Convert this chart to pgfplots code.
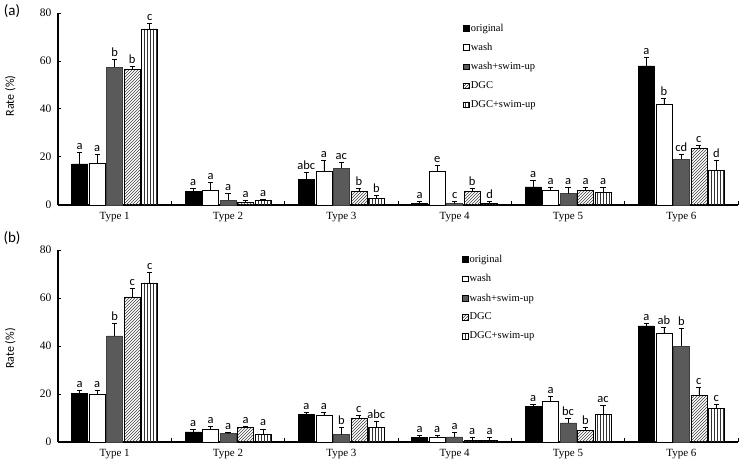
\documentclass[border=0pt]{standalone}
\usepackage{fontspec}
\setmainfont{Liberation Serif}
\newfontfamily\tnr{Liberation Serif}
\newfontfamily\calib{Carlito}
\usepackage{pgfplots}
\usepackage{pgfplotstable}
\pgfplotsset{compat=1.18}
\usetikzlibrary{patterns}

\pgfplotstableread{
x o oe ol w we wl s se sl d de dl v ve vl
0 17.1 4.7 a 17.4 3.7 a 57.4 3.4 b 56.6 1.3 b 73.4 2.5 c
1 5.8 1.2 a 6.1 3.2 a 1.9 3.0 a 1.2 0.6 a 1.9 0.3 a
2 10.7 3.1 abc 13.9 4.7 a 15.3 2.4 ac 5.6 1.2 b 2.9 1.0 b
3 0.8 0.7 a 14.2 2.5 e 0.6 0.8 c 5.7 1.4 b 0.6 0.9 d
4 7.5 2.8 a 6.1 1.3 a 4.7 2.7 a 6.1 1.3 a 5.3 2.1 a
5 58.0 3.5 a 42.1 2.3 b 19.1 2.0 cd 23.8 1.0 c 14.5 4.1 d
}\dataA

\pgfplotstableread{
x o oe ol w we wl s se sl d de dl v ve vl
0 20.2 1.3 a 20.1 1.3 a 44.2 5.4 b 60.5 3.6 c 66.3 4.6 c
1 4.2 1.1 a 5.5 0.9 a 3.5 0.7 a 6.2 0.3 a 3.1 2.4 a
2 11.4 1.1 a 11.0 1.2 a 3.1 2.9 b 10.0 1.2 c 6.0 2.6 abc
3 1.8 1.0 a 2.1 0.7 a 2.1 1.8 a 0.7 1.1 a 0.7 1.1 a
4 14.7 1.0 a 16.8 2.1 a 8.0 1.8 bc 4.9 1.3 b 11.5 3.8 ac
5 48.4 1.0 a 45.2 2.5 ab 39.9 7.3 b 19.4 3.3 c 14.0 1.7 c
}\dataB

\definecolor{barGray}{HTML}{5A5A5A}

\pgfplotsset{
  panel/.style={
    ybar, bar width=16pt,
    width=680pt, height=192pt, scale only axis,
    xmin=-0.5, xmax=5.5, ymin=0, ymax=80,
    axis x line*=bottom, axis y line*=left,
    axis line style={line width=1.2pt},
    ytick={0,20,40,60,80},
    xtick={0,1,2,3,4,5},
    xticklabels={Type 1,Type 2,Type 3,Type 4,Type 5,Type 6},
    minor xtick={0.5,1.5,2.5,3.5,4.5,5.5},
    tick align=inside, major tick length=3pt, minor tick length=4pt,
    major x tick style={draw=none},
    minor x tick style={line width=1pt, black},
    major y tick style={line width=1pt, black},
    /pgf/number format/assume math mode=true,
    yticklabel style={font=\tnr\fontsize{11.5}{13}\selectfont, xshift=-3pt},
    xticklabel style={font=\tnr\fontsize{11}{13}\selectfont, yshift=-4pt},
    ylabel={Rate (\%)},
    legend cell align=left,
    legend style={draw=none, fill=none, inner sep=0pt, row sep=7.5pt,
      font=\tnr\fontsize{10.5}{12}\selectfont, nodes={inner sep=1.5pt}},
    legend image code/.code={\draw[##1, draw=black, line width=0.4pt] (0pt,-2.6pt) rectangle (5.5pt,2.9pt);},
    clip=false,
  },
  bars/.style={
    line width=0.5pt,
    error bars/y dir=plus, error bars/y explicit,
    error bars/error bar style={black, line width=0.6pt},
    error bars/error mark options={rotate=90, mark size=2.6pt, black, line width=0.6pt},
    nodes near coords, point meta=explicit symbolic,
    every node near coord/.append style={font=\calib\fontsize{12.5}{14}\selectfont, black, anchor=south, inner sep=2.5pt, shift={(axis direction cs:0,\err)}},
  },
  sO/.style={bars, bar shift=-35pt, fill=black, draw=black},
  sW/.style={bars, bar shift=-17.5pt, fill=white, draw=black},
  sS/.style={bars, bar shift=0pt, fill=barGray, draw=barGray!70!black},
  sD/.style={bars, bar shift=17.5pt, fill=white, draw=black, pattern=north east lines, pattern color=black!75},
  sV/.style={bars, bar shift=35pt, fill=white, draw=black, pattern=vertical lines, pattern color=black!80},
}

\begin{document}
\begin{tikzpicture}
\useasboundingbox (0pt,0pt) rectangle (744pt,463pt);
\node[font=\calib\fontsize{15}{18}\selectfont] at (12pt,452pt) {(a)};
\node[font=\calib\fontsize{15}{18}\selectfont] at (12pt,224.5pt) {(b)};

\begin{axis}[panel, at={(58pt,258pt)}, anchor=south west,
  ylabel style={font=\calib\fontsize{12}{14}\selectfont, at={(axis description cs:-0.07,0.568)}, anchor=center},
  legend style={at={(axis description cs:0.596,0.952)}, anchor=north west}]
\addplot[sO, visualization depends on={\thisrow{oe} \as \err}] table[x=x, y=o, y error=oe, meta=ol]{\dataA};
\addplot[sW, visualization depends on={\thisrow{we} \as \err}] table[x=x, y=w, y error=we, meta=wl]{\dataA};
\addplot[sS, visualization depends on={\thisrow{se} \as \err}] table[x=x, y=s, y error=se, meta=sl]{\dataA};
\addplot[sD, visualization depends on={\thisrow{de} \as \err}] table[x=x, y=d, y error=de, meta=dl]{\dataA};
\addplot[sV, visualization depends on={\thisrow{ve} \as \err}] table[x=x, y=v, y error=ve, meta=vl]{\dataA};
\legend{original,wash,wash+swim-up,DGC,DGC+swim-up}
\end{axis}

\begin{axis}[panel, at={(58pt,21pt)}, anchor=south west,
  ylabel style={font=\calib\fontsize{12}{14}\selectfont, at={(axis description cs:-0.07,0.487)}, anchor=center},
  legend style={at={(axis description cs:0.594,0.982)}, anchor=north west}]
\addplot[sO, visualization depends on={\thisrow{oe} \as \err}] table[x=x, y=o, y error=oe, meta=ol]{\dataB};
\addplot[sW, visualization depends on={\thisrow{we} \as \err}] table[x=x, y=w, y error=we, meta=wl]{\dataB};
\addplot[sS, visualization depends on={\thisrow{se} \as \err}] table[x=x, y=s, y error=se, meta=sl]{\dataB};
\addplot[sD, visualization depends on={\thisrow{de} \as \err}] table[x=x, y=d, y error=de, meta=dl]{\dataB};
\addplot[sV, visualization depends on={\thisrow{ve} \as \err}] table[x=x, y=v, y error=ve, meta=vl]{\dataB};
\legend{original,wash,wash+swim-up,DGC,DGC+swim-up}
\end{axis}
\end{tikzpicture}
\end{document}
